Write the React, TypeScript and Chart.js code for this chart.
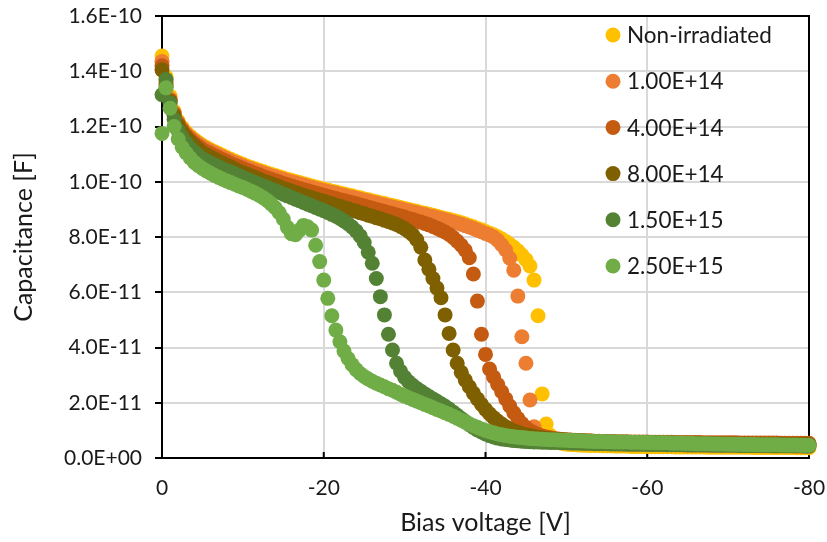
import React, { useEffect, useRef } from "react";
import { Chart, registerables } from "chart.js";

Chart.register(...registerables);

// Bias voltage [V]
const voltages = [
  0, -0.5, -1, -1.5, -2, -2.5, -3, -3.5, -4, -4.5,
  -5, -5.5, -6, -6.5, -7, -7.5, -8, -8.5, -9, -9.5,
  -10, -10.5, -11, -11.5, -12, -12.5, -13, -13.5, -14, -14.5,
  -15, -15.5, -16, -16.5, -17, -17.5, -18, -18.5, -19, -19.5,
  -20, -20.5, -21, -21.5, -22, -22.5, -23, -23.5, -24, -24.5,
  -25, -25.5, -26, -26.5, -27, -27.5, -28, -28.5, -29, -29.5,
  -30, -30.5, -31, -31.5, -32, -32.5, -33, -33.5, -34, -34.5,
  -35, -35.5, -36, -36.5, -37, -37.5, -38, -38.5, -39, -39.5,
  -40, -40.5, -41, -41.5, -42, -42.5, -43, -43.5, -44, -44.5,
  -45, -45.5, -46, -46.5, -47, -47.5, -48, -48.5, -49, -49.5,
  -50, -50.5, -51, -51.5, -52, -52.5, -53, -53.5, -54, -54.5,
  -55, -55.5, -56, -56.5, -57, -57.5, -58, -58.5, -59, -59.5,
  -60, -60.5, -61, -61.5, -62, -62.5, -63, -63.5, -64, -64.5,
  -65, -65.5, -66, -66.5, -67, -67.5, -68, -68.5, -69, -69.5,
  -70, -70.5, -71, -71.5, -72, -72.5, -73, -73.5, -74, -74.5,
  -75, -75.5, -76, -76.5, -77, -77.5, -78, -78.5, -79, -79.5, -80,
];

// Capacitance values in pF (1 pF = 1E-12 F)
const capNonIrradiated = [
  145.5, 138, 131, 125.5, 122, 119.7, 117.9, 116.5, 115.3, 114.2,
  113.2, 112.4, 111.6, 110.9, 110.2, 109.5, 108.8, 108.1, 107.5, 106.9,
  106.3, 105.7, 105.2, 104.7, 104.2, 103.7, 103.2, 102.7, 102.3, 101.8,
  101.4, 100.9, 100.5, 100.1, 99.7, 99.3, 98.9, 98.5, 98.1, 97.7,
  97.3, 97, 96.6, 96.3, 95.9, 95.6, 95.2, 94.9, 94.5, 94.2,
  93.8, 93.5, 93.1, 92.8, 92.4, 92.1, 91.7, 91.4, 91, 90.7,
  90.3, 90, 89.6, 89.3, 88.9, 88.6, 88.2, 87.9, 87.5, 87.1,
  86.7, 86.4, 86, 85.6, 85.2, 84.7, 84.2, 83.7, 83.1, 82.6,
  82, 81.4, 80.8, 80.1, 79.3, 78.4, 77.4, 76.3, 75, 73.5,
  71.8, 69.5, 64.4, 51.5, 23.2, 12.3, 8.2, 6.6, 5.8, 5.3,
  5.0, 4.9, 4.8, 4.7, 4.6, 4.6, 4.5, 4.5, 4.5, 4.4,
  4.4, 4.4, 4.3, 4.3, 4.3, 4.3, 4.2, 4.2, 4.2, 4.2,
  4.2, 4.1, 4.1, 4.1, 4.1, 4.1, 4.1, 4.0, 4.0, 4.0,
  4.0, 4.0, 4.0, 4.0, 4.0, 3.9, 3.9, 3.9, 3.9, 3.9,
  3.9, 3.9, 3.9, 3.9, 3.9, 3.9, 3.8, 3.8, 3.8, 3.8,
  3.8, 3.8, 3.8, 3.8, 3.8, 3.8, 3.8, 3.7, 3.7, 3.7, 3.7,
];

const cap1e14 = [
  143.5, 136.5, 130, 125, 121.5, 119.2, 117.4, 116, 114.8, 113.7,
  112.7, 111.9, 111.1, 110.4, 109.7, 109, 108.3, 107.6, 107, 106.4,
  105.8, 105.2, 104.7, 104.2, 103.7, 103.2, 102.7, 102.2, 101.8, 101.3,
  100.9, 100.4, 100, 99.6, 99.2, 98.8, 98.4, 98, 97.6, 97.2,
  96.8, 96.5, 96.1, 95.8, 95.4, 95.1, 94.7, 94.4, 94, 93.7,
  93.3, 93, 92.6, 92.3, 91.9, 91.6, 91.2, 90.9, 90.5, 90.2,
  89.8, 89.5, 89.1, 88.8, 88.4, 88.1, 87.7, 87.4, 87, 86.6,
  86.2, 85.8, 85.4, 85, 84.6, 84.1, 83.6, 83.1, 82.5, 81.9,
  81.3, 80.7, 80, 78.8, 77.2, 75.3, 72.3, 68, 58.6, 43.9,
  34.3, 21, 11.3, 8.4, 7.3, 6.7, 6.3, 6.1, 5.9, 5.8,
  5.7, 5.6, 5.6, 5.5, 5.5, 5.4, 5.4, 5.3, 5.3, 5.3,
  5.2, 5.2, 5.2, 5.1, 5.1, 5.1, 5.0, 5.0, 5.0, 5.0,
  4.9, 4.9, 4.9, 4.9, 4.8, 4.8, 4.8, 4.8, 4.8, 4.7,
  4.7, 4.7, 4.7, 4.7, 4.6, 4.6, 4.6, 4.6, 4.6, 4.6,
  4.6, 4.5, 4.5, 4.5, 4.5, 4.5, 4.5, 4.5, 4.4, 4.4,
  4.4, 4.4, 4.4, 4.4, 4.4, 4.4, 4.3, 4.3, 4.3, 4.3, 4.3,
];

const cap4e14 = [
  142, 135.5, 129.5, 124.5, 121, 118.6, 116.7, 115.2, 113.9, 112.8,
  111.7, 110.9, 110.1, 109.4, 108.7, 108, 107.3, 106.6, 106, 105.4,
  104.8, 104.2, 103.6, 103, 102.5, 101.9, 101.4, 100.9, 100.4, 99.9,
  99.4, 98.9, 98.5, 98, 97.6, 97.1, 96.7, 96.3, 95.9, 95.5,
  95.1, 94.7, 94.3, 93.9, 93.5, 93.1, 92.8, 92.4, 92, 91.6,
  91.2, 90.8, 90.4, 90, 89.6, 89.2, 88.8, 88.4, 88, 87.6,
  87.2, 86.7, 86.3, 85.8, 85.4, 84.9, 84.4, 83.8, 83.2, 82.5,
  81.8, 80.9, 79.8, 78.5, 77, 75.2, 72.5, 66.6, 56.8, 44.8,
  37.5, 32.2, 29.3, 26.6, 24, 21.4, 18.8, 16.4, 14.3, 12.5,
  11, 9.9, 9.1, 8.5, 8, 7.6, 7.3, 7.1, 6.9, 6.7,
  6.6, 6.5, 6.4, 6.3, 6.3, 6.2, 6.2, 6.1, 6.1, 6.0,
  6.0, 6.0, 5.9, 5.9, 5.9, 5.9, 5.8, 5.8, 5.8, 5.8,
  5.8, 5.7, 5.7, 5.7, 5.7, 5.7, 5.7, 5.6, 5.6, 5.6,
  5.6, 5.6, 5.6, 5.6, 5.5, 5.5, 5.5, 5.5, 5.5, 5.5,
  5.5, 5.5, 5.5, 5.4, 5.4, 5.4, 5.4, 5.4, 5.4, 5.4,
  5.4, 5.4, 5.4, 5.3, 5.3, 5.3, 5.3, 5.3, 5.3, 5.3, 5.3,
];

const cap8e14 = [
  140.5, 134.5, 129, 124, 120.5, 118, 116, 114.5, 113.1, 111.8,
  110.5, 109.7, 108.9, 108.1, 107.4, 106.7, 106, 105.3, 104.6, 103.9,
  103.3, 102.7, 102.1, 101.5, 100.9, 100.3, 99.8, 99.3, 98.7, 98.2,
  97.6, 97.1, 96.6, 96.1, 95.6, 95.1, 94.7, 94.2, 93.8, 93.3,
  92.9, 92.4, 92, 91.5, 91.1, 90.6, 90.2, 89.7, 89.3, 88.8,
  88.4, 87.9, 87.5, 87, 86.6, 86.1, 85.6, 85.1, 84.5, 83.8,
  83, 82, 80.8, 79, 76.3, 71.7, 68.3, 65, 61.5, 58,
  51.8, 45.1, 39.1, 34.3, 31, 28.2, 25.8, 23.5, 21.4, 19.4,
  17.6, 16, 14.6, 13.4, 12.3, 11.3, 10.5, 9.8, 9.3, 8.8,
  8.4, 8.1, 7.8, 7.5, 7.3, 7.1, 7, 6.8, 6.7, 6.6,
  6.5, 6.4, 6.3, 6.2, 6.2, 6.1, 6.0, 6.0, 5.9, 5.9,
  5.9, 5.8, 5.8, 5.7, 5.7, 5.7, 5.6, 5.6, 5.6, 5.6,
  5.5, 5.5, 5.5, 5.5, 5.4, 5.4, 5.4, 5.4, 5.3, 5.3,
  5.3, 5.3, 5.3, 5.3, 5.2, 5.2, 5.2, 5.2, 5.2, 5.2,
  5.1, 5.1, 5.1, 5.1, 5.1, 5.1, 5.0, 5.0, 5.0, 5.0,
  5.0, 5.0, 5.0, 5.0, 4.9, 4.9, 4.9, 4.9, 4.9, 4.9, 4.9,
];

const cap1p5e15 = [
  131.5, 137, 128.5, 122.5, 118.5, 116, 114, 112.2, 110.8, 109.5,
  108.3, 107.5, 106.8, 106.1, 105.4, 104.7, 104.1, 103.5, 102.9, 102.2,
  101.5, 100.9, 100.3, 99.7, 99.1, 98.5, 97.9, 97.3, 96.7, 96.1,
  95.5, 94.9, 94.3, 93.7, 93.1, 92.5, 91.9, 91.3, 90.7, 90.1,
  89.5, 88.9, 88.2, 87.5, 86.7, 85.8, 84.8, 83.6, 82.2, 80.4,
  78, 74.5, 70.5, 65, 58.4, 51.8, 44.8, 39.1, 34.3, 31.4,
  29.2, 27.6, 26.3, 25.2, 24.2, 23.2, 22.3, 21.4, 20.5, 19.6,
  18.7, 17.7, 16.6, 15.5, 14.3, 13.2, 12.1, 11.1, 10.2, 9.4,
  8.7, 8.1, 7.6, 7.2, 6.9, 6.7, 6.5, 6.3, 6.2, 6.1,
  6.0, 5.9, 5.8, 5.8, 5.7, 5.7, 5.6, 5.6, 5.6, 5.5,
  5.5, 5.4, 5.4, 5.4, 5.3, 5.3, 5.3, 5.2, 5.2, 5.2,
  5.2, 5.1, 5.1, 5.1, 5.1, 5.0, 5.0, 5.0, 5.0, 5.0,
  4.9, 4.9, 4.9, 4.9, 4.9, 4.8, 4.8, 4.8, 4.8, 4.8,
  4.7, 4.7, 4.7, 4.7, 4.7, 4.7, 4.6, 4.6, 4.6, 4.6,
  4.6, 4.6, 4.6, 4.5, 4.5, 4.5, 4.5, 4.5, 4.5, 4.5,
  4.5, 4.4, 4.4, 4.4, 4.4, 4.4, 4.4, 4.4, 4.4, 4.3, 4.3,
];

const cap2p5e15 = [
  117.5, 134, 126.6, 120, 115.5, 112.5, 110.4, 108.6, 107, 105.8,
  104.8, 103.9, 103.1, 102.3, 101.6, 100.9, 100.3, 99.7, 99.1, 98.5,
  97.9, 97.3, 96.6, 95.9, 95.1, 94.2, 93.2, 92, 90.6, 88.8,
  86.5, 83.5, 81.2, 80.8, 82.5, 84.2, 83.7, 82.5, 77, 71.1,
  64.4, 57.8, 51.5, 46.3, 42.1, 38.7, 36, 33.8, 32, 30.6,
  29.5, 28.6, 27.8, 27.1, 26.4, 25.8, 25.1, 24.5, 23.8, 23.1,
  22.4, 21.8, 21.2, 20.6, 20, 19.4, 18.8, 18.2, 17.6, 17,
  16.4, 15.8, 15.1, 14.4, 13.7, 13, 12.3, 11.7, 11.1, 10.5,
  10, 9.5, 9.1, 8.7, 8.4, 8.1, 7.9, 7.7, 7.5, 7.4,
  7.2, 7.1, 7, 6.9, 6.8, 6.7, 6.6, 6.6, 6.5, 6.4,
  6.4, 6.3, 6.3, 6.2, 6.2, 6.1, 6.1, 6.0, 6.0, 6.0,
  5.9, 5.9, 5.8, 5.8, 5.8, 5.8, 5.7, 5.7, 5.7, 5.6,
  5.6, 5.6, 5.5, 5.5, 5.5, 5.5, 5.4, 5.4, 5.4, 5.3,
  5.3, 5.3, 5.2, 5.2, 5.2, 5.2, 5.1, 5.1, 5.1, 5.1,
  5.0, 5.0, 5.0, 5.0, 4.9, 4.9, 4.9, 4.9, 4.8, 4.8,
  4.8, 4.8, 4.8, 4.7, 4.7, 4.7, 4.7, 4.7, 4.6, 4.6, 4.6,
];

const seriesLabels = ["Non-irradiated", "1.00E+14", "4.00E+14", "8.00E+14", "1.50E+15", "2.50E+15"];
const seriesValues = [capNonIrradiated, cap1e14, cap4e14, cap8e14, cap1p5e15, cap2p5e15];
const seriesColors = ["#FFC000", "#ED7D31", "#C55A11", "#7F6000", "#548235", "#70AD47"];

const xTickValues = [0, -20, -40, -60, -80];
const xMin = -80;
const xMax = 0;
const yMinPF = 0;
const yMaxPF = 160;
const yStepPF = 20;

const FONT = "Lato";
const TEXT_COLOR = "#1a1a1a";
const TICK_SIZE = 21;
const TITLE_SIZE = 25;
const LEGEND_SIZE = 22.5;

function formatFarad(vPF: number): string {
  const v = vPF * 1e-12;
  return v
    .toExponential(1)
    .toUpperCase()
    .replace(/E([+-])(\d)$/, (_m: string, s: string, d: string) => `E${s}0${d}`);
}

const framePlugin = {
  id: "frameAndLegend",
  beforeDatasetsDraw(chart: any) {
    const { ctx, chartArea: a, scales } = chart;
    ctx.save();
    ctx.strokeStyle = "#000";
    ctx.lineWidth = 2;
    ctx.beginPath();
    ctx.moveTo(a.left, a.top);
    ctx.lineTo(a.right, a.top);
    ctx.lineTo(a.right, a.bottom);
    ctx.stroke();
    ctx.beginPath();
    xTickValues.forEach((v) => {
      const px = scales.x.getPixelForValue(v);
      ctx.moveTo(px, a.bottom);
      ctx.lineTo(px, a.bottom - 6);
    });
    ctx.stroke();
    ctx.restore();
  },
  afterDraw(chart: any) {
    const { ctx, chartArea: a } = chart;
    ctx.save();
    ctx.font = `${LEGEND_SIZE}px ${FONT}`;
    ctx.textBaseline = "middle";
    ctx.textAlign = "left";
    const mx = a.right - 196;
    seriesLabels.forEach((label, i) => {
      const my = a.top + 19 + i * 46.2;
      ctx.fillStyle = seriesColors[i];
      ctx.beginPath();
      ctx.arc(mx, my, 7.5, 0, Math.PI * 2);
      ctx.fill();
      ctx.fillStyle = TEXT_COLOR;
      ctx.fillText(label, mx + 14, my + 1);
    });
    ctx.restore();
  },
};

export default function App() {
  const canvasRef = useRef<HTMLCanvasElement>(null);

  useEffect(() => {
    document.body.style.margin = "0";
    const datasets = seriesLabels.map((label, i) => ({
      label,
      data: voltages.map((v, j) => ({ x: v, y: seriesValues[i][j] })),
      backgroundColor: seriesColors[i],
      borderColor: seriesColors[i],
      pointRadius: 7.5,
      pointHoverRadius: 7.5,
      pointBorderWidth: 0,
      showLine: false,
      order: seriesLabels.length - 1 - i,
      clip: false as any,
    }));

    const chart = new Chart(canvasRef.current!, {
      type: "scatter",
      data: { datasets },
      plugins: [framePlugin],
      options: {
        animation: false,
        responsive: true,
        maintainAspectRatio: false,
        events: [],
        layout: { padding: { left: 0, right: 18, top: 16, bottom: 0 } },
        plugins: {
          legend: { display: false },
          tooltip: { enabled: false },
        },
        scales: {
          x: {
            type: "linear",
            position: "bottom",
            min: xMin,
            max: xMax,
            reverse: true,
            afterBuildTicks: (scale: any) => {
              scale.ticks = xTickValues.map((v) => ({ value: v }));
            },
            ticks: {
              color: TEXT_COLOR,
              font: { family: FONT, size: TICK_SIZE },
              padding: 18,
              maxRotation: 0,
              callback: (v: any) => String(v),
            },
            grid: { color: "#D9D9D9", lineWidth: 2, drawTicks: false },
            border: { color: "#000", width: 2 },
            title: {
              display: true,
              text: "Bias voltage [V]",
              color: TEXT_COLOR,
              font: { family: FONT, size: TITLE_SIZE },
              padding: { top: 0, bottom: 4 },
            },
            afterFit: (scale: any) => {
              scale.height = 84;
              scale.paddingLeft = 0;
              scale.paddingRight = 0;
            },
          },
          y: {
            type: "linear",
            min: yMinPF,
            max: yMaxPF,
            ticks: {
              stepSize: yStepPF,
              color: TEXT_COLOR,
              font: { family: FONT, size: TICK_SIZE },
              padding: 13,
              callback: (v: any) => formatFarad(Number(v)),
            },
            grid: {
              color: "#D9D9D9",
              lineWidth: 2,
              tickColor: "#000",
              tickLength: 7,
              tickWidth: 2,
            },
            border: { color: "#000", width: 2 },
            title: {
              display: true,
              text: "Capacitance [F]",
              color: TEXT_COLOR,
              font: { family: FONT, size: TITLE_SIZE },
              padding: { top: 9, bottom: 0 },
            },
            afterFit: (scale: any) => {
              scale.width = 162;
              scale.paddingTop = 0;
              scale.paddingBottom = 0;
            },
          },
        },
      } as any,
    });
    return () => chart.destroy();
  }, []);

  return (
    <div style={{ position: "absolute", left: 0, top: 0, width: 827, height: 542 }}>
      <canvas ref={canvasRef} />
    </div>
  );
}
